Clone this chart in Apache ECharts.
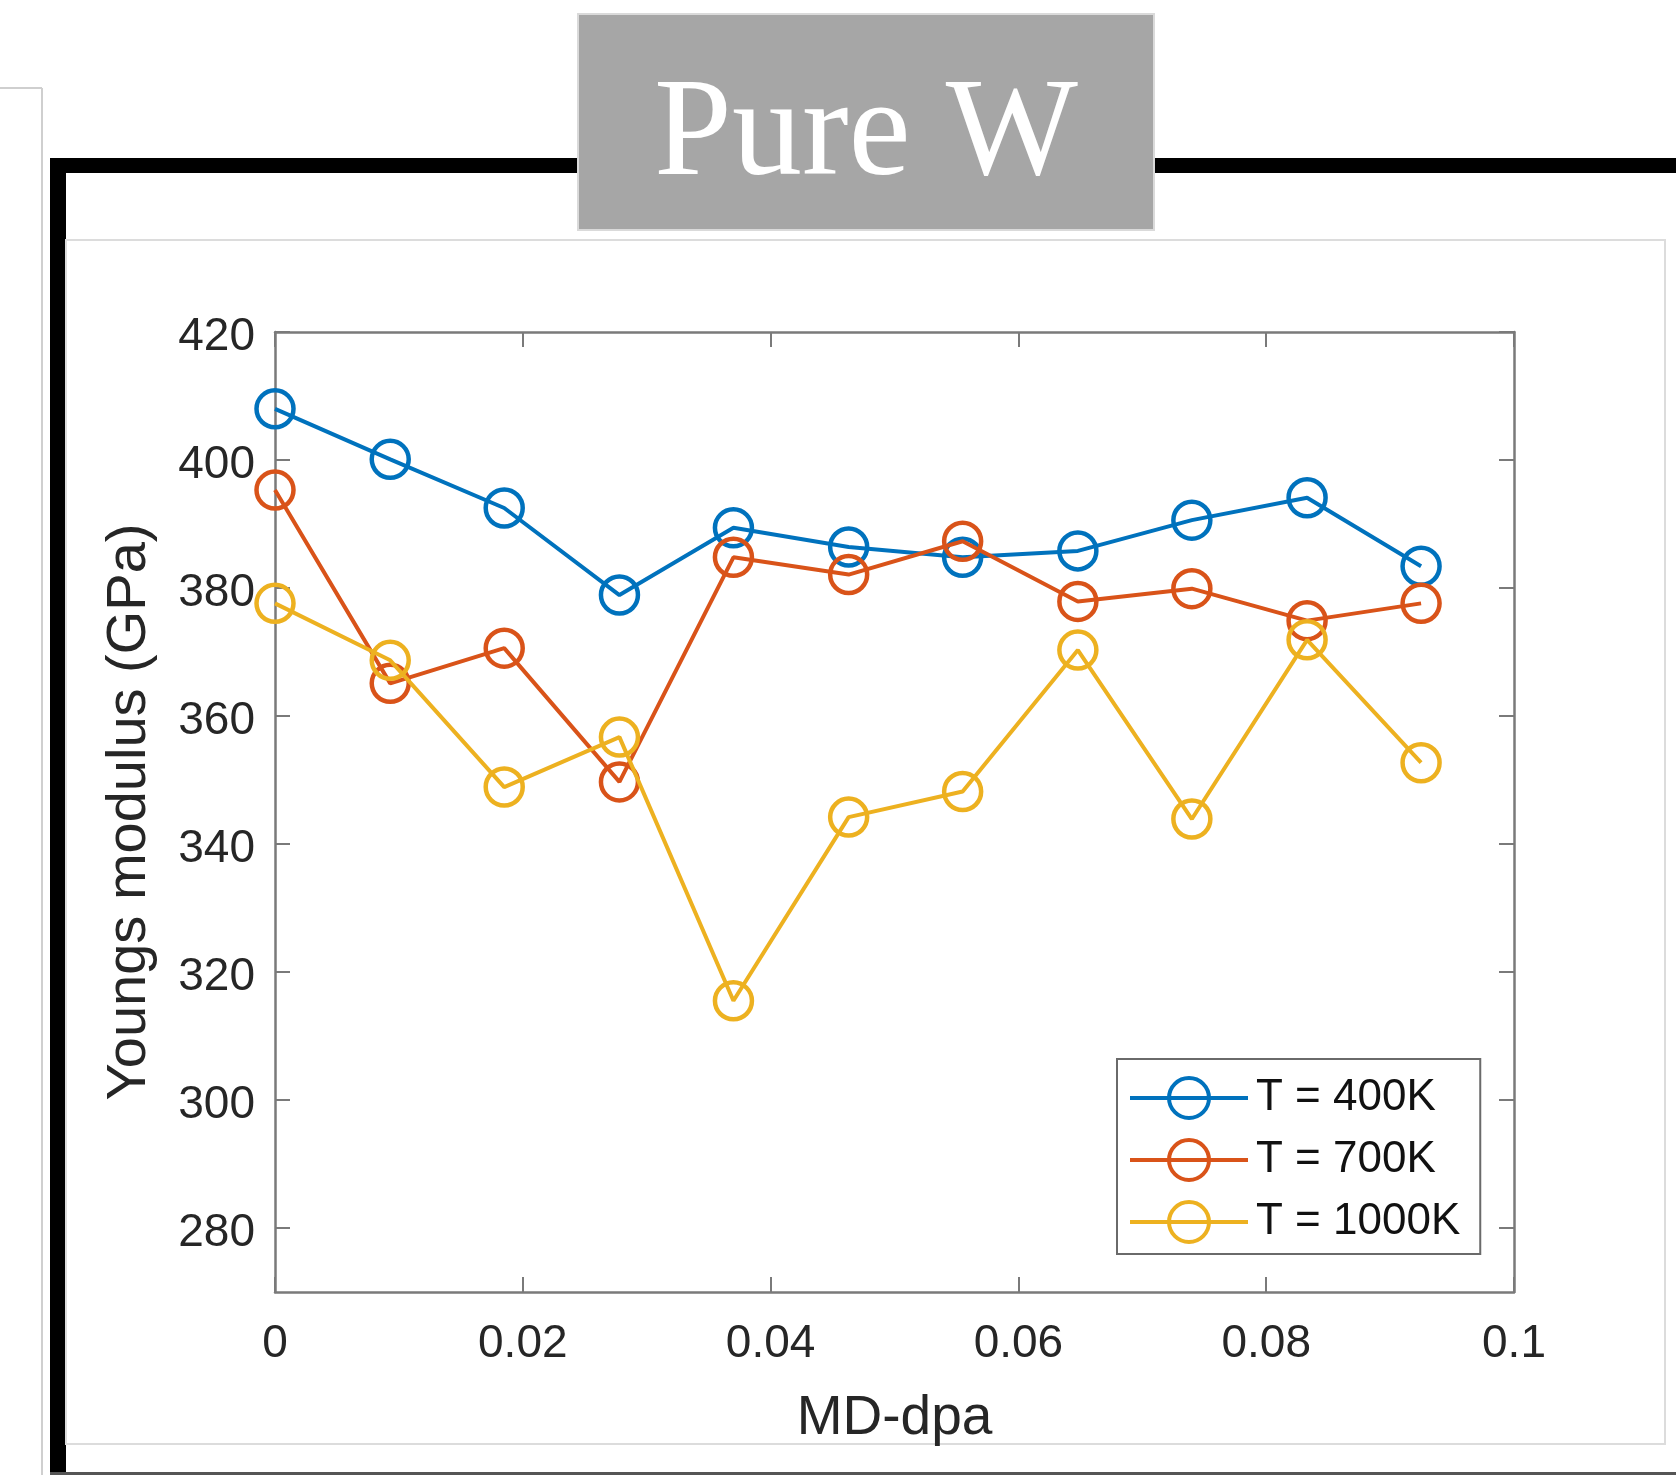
<!DOCTYPE html>
<html>
<head>
<meta charset="utf-8">
<script src="https://cdn.jsdelivr.net/npm/echarts@6/dist/echarts.min.js"></script>
<style>
html,body{margin:0;padding:0;background:#fff;}
#chart{width:1676px;height:1475px;}
</style>
</head>
<body>
<div id="chart"></div>
<script>
// ---- data ----
const dpa = [0, 0.0093, 0.0185, 0.0278, 0.037, 0.0463, 0.0555, 0.0648, 0.074, 0.0833, 0.0925];
const t400 = [408.0, 400.1, 392.5, 378.9, 389.4, 386.4, 384.8, 385.8, 390.6, 394.1, 383.4];
const t700 = [395.3, 365.1, 370.6, 349.7, 384.8, 382.1, 387.3, 377.9, 379.9, 374.9, 377.6];
const t1000 = [377.6, 368.7, 348.9, 356.7, 315.5, 344.2, 348.2, 370.3, 343.9, 371.9, 352.7];
const seriesNames = ['T = 400K', 'T = 700K', 'T = 1000K'];
const xTicks = [0, 0.02, 0.04, 0.06, 0.08, 0.1];
const yTicks = [280, 300, 320, 340, 360, 380, 400, 420];
const titleText = 'Pure W';
const xName = 'MD-dpa';
const yName = 'Youngs modulus (GPa)';

const colors = ['#0072BD', '#D95319', '#EDB120'];
const allSeries = [t400, t700, t1000];

const chart = echarts.init(document.getElementById('chart'));
const FONT = '"Liberation Sans", Arial, Helvetica, sans-serif';
const axisColor = '#7a7a7a';
const textColor = '#262626';

function pairs(ys) { return dpa.map((x, i) => [x, ys[i]]); }

const baseX = {
  type: 'value', min: 0, max: 0.1, interval: 0.02,
  axisLine: { show: true, onZero: false, lineStyle: { color: axisColor, width: 2.5 } },
  axisTick: { show: true, inside: true, length: 15, lineStyle: { color: axisColor, width: 2 }, customValues: xTicks },
  splitLine: { show: false }
};
const baseY = {
  type: 'value', min: 270, max: 420,
  axisLine: { show: true, onZero: false, lineStyle: { color: axisColor, width: 2.5 } },
  axisTick: { show: true, inside: true, length: 15, lineStyle: { color: axisColor, width: 2 }, customValues: yTicks },
  splitLine: { show: false }
};

const option = {
  backgroundColor: '#fff',
  animation: false,
  grid: { left: 275, right: 162, top: 332, bottom: 183, containLabel: false },
  legend: {
    orient: 'vertical',
    left: 1117, top: 1059,
    backgroundColor: '#fff',
    borderColor: '#6a6a6a', borderWidth: 2, borderRadius: 0,
    padding: [17, 20, 10, 11],
    itemGap: 18,
    itemWidth: 118, itemHeight: 50,
    lineStyle: { width: 4 },
    itemStyle: { borderWidth: 4 },
    textStyle: { fontSize: 44, fontFamily: FONT, color: '#111', padding: [0, 0, 0, 3] },
    data: seriesNames
  },
  xAxis: [
    Object.assign({}, baseX, {
      position: 'bottom',
      name: xName, nameLocation: 'middle', nameGap: 99,
      nameTextStyle: { fontSize: 55, fontFamily: FONT, color: textColor },
      axisLabel: { show: true, margin: 29, fontSize: 46, fontFamily: FONT, color: textColor, customValues: xTicks,
        formatter: v => String(Math.round(v * 100) / 100) }
    }),
    Object.assign({}, baseX, { position: 'top', axisLabel: { show: false } })
  ],
  yAxis: [
    Object.assign({}, baseY, {
      position: 'left',
      name: yName, nameLocation: 'middle', nameGap: 117,
      nameTextStyle: { fontSize: 56, fontFamily: FONT, color: textColor },
      axisLabel: { show: true, margin: 20, fontSize: 46, fontFamily: FONT, color: textColor, customValues: yTicks,
        formatter: v => '{a|' + v + '}',
        rich: { a: { fontSize: 46, fontFamily: FONT, color: textColor, padding: [10, 0, 0, 0] } } }
    }),
    Object.assign({}, baseY, { position: 'right', axisLabel: { show: false } })
  ],
  series: allSeries.map((ys, k) => ({
    name: seriesNames[k],
    type: 'line',
    xAxisIndex: 0, yAxisIndex: 0,
    data: pairs(ys),
    symbol: 'circle',
    symbolSize: 37,
    showAllSymbol: true,
    itemStyle: { color: 'rgba(255,255,255,0)', borderColor: colors[k], borderWidth: 4.5 },
    lineStyle: { color: colors[k], width: 4 },
    emphasis: { disabled: true },
    z: 3 + k
  })),
  graphic: [
    // thin gray frame at far left
    { type: 'line', shape: { x1: 0, y1: 88, x2: 42, y2: 88 }, style: { stroke: '#cfcfcf', lineWidth: 2 }, z: 0 },
    { type: 'line', shape: { x1: 42, y1: 88, x2: 42, y2: 1475 }, style: { stroke: '#cfcfcf', lineWidth: 2 }, z: 0 },
    // thick black frame
    { type: 'rect', shape: { x: 50, y: 158, width: 1626, height: 15 }, style: { fill: '#000' }, z: 0 },
    { type: 'rect', shape: { x: 50, y: 158, width: 16, height: 1317 }, style: { fill: '#000' }, z: 0 },
    { type: 'rect', shape: { x: 50, y: 1472, width: 1626, height: 3 }, style: { fill: '#555' }, z: 0 },
    // inner light panel border
    { type: 'rect', shape: { x: 66, y: 240, width: 1599, height: 1204 }, style: { fill: 'none', stroke: '#dcdcdc', lineWidth: 2 }, z: 0 },
    // title box
    { type: 'rect', shape: { x: 578, y: 14, width: 576, height: 216 }, style: { fill: '#a6a6a6', stroke: '#dadada', lineWidth: 2 }, z: 1 },
    { type: 'text', x: 866, y: 137, style: { text: titleText, fill: '#ffffff', font: '140px "Liberation Serif", "Times New Roman", serif', align: 'center', verticalAlign: 'middle' }, z: 2 }
  ]
};
chart.setOption(option);
</script>
</body>
</html>
